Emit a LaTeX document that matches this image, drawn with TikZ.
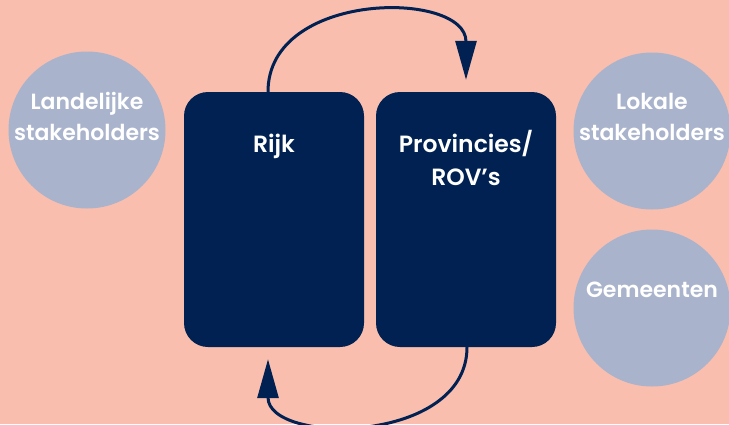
\documentclass[tikz,border=0pt]{standalone}
\usepackage{fontspec}
\setmainfont{Poppins}[BoldFont={Poppins SemiBold}]
\usetikzlibrary{arrows.meta,shapes}
\definecolor{bgpink}{HTML}{F9BEAE}
\definecolor{partygray}{HTML}{A9B3CC}
\definecolor{navy}{HTML}{002152}
\tikzstyle{party}=[circle,fill=partygray,minimum size=157pt,inner sep=0pt]
\tikzstyle{layer}=[rectangle,rounded corners=24pt,fill=navy,minimum width=180pt,minimum height=255pt,inner sep=0pt]
\tikzstyle{party text}=[text=white,font=\bfseries\fontsize{22}{31}\selectfont,align=center,inner sep=0pt]
\tikzstyle{layer text}=[text=white,font=\bfseries\fontsize{23.5}{33}\selectfont,align=center,inner sep=0pt]
\tikzstyle{loop}=[draw=navy,line width=3pt,-{Triangle[length=39pt,width=21pt]}]

\begin{document}
\begin{tikzpicture}[x=1pt,y=-1pt]
    \useasboundingbox (0,0) rectangle (729,424);
    \fill[bgpink] (0,0) rectangle (729,424);

    % First we draw the stakeholder circles
    \foreach \pos/\name in {{(87,130)/land}, {(652,131)/lokaal}, {(652,308)/gem}}
        \node[party] (\name) at \pos {};

    % Then the two government layers
    \foreach \pos/\name in {{(274,219.5)/rijk}, {(466,219.5)/prov}}
        \node[layer] (\name) at \pos {};

    % Labels
    \node[party text] (landtxt) at (87,116) {Landelijke\\stakeholders};
    \node[party text] (lokaaltxt) at (652,117) {Lokale\\stakeholders};
    \node[party text, anchor=base] (gemtxt) at (652,297) {Gemeenten};
    \node[layer text, anchor=base] (rijktxt) at (274,152) {Rijk};
    \node[layer text] (provtxt) at (466,158) {Provincies/\\ROV’s};

    % Connect the layers with the loop arrows
    \draw[loop] ([xshift=-6pt]rijk.north) .. controls (268,-10) and (466,-10) .. ([yshift=12pt]prov.north);
    \draw[loop] ([xshift=1pt]prov.south) .. controls (467,445) and (268,445) .. ([xshift=-6pt,yshift=-12pt]rijk.south);
\end{tikzpicture}
\end{document}
